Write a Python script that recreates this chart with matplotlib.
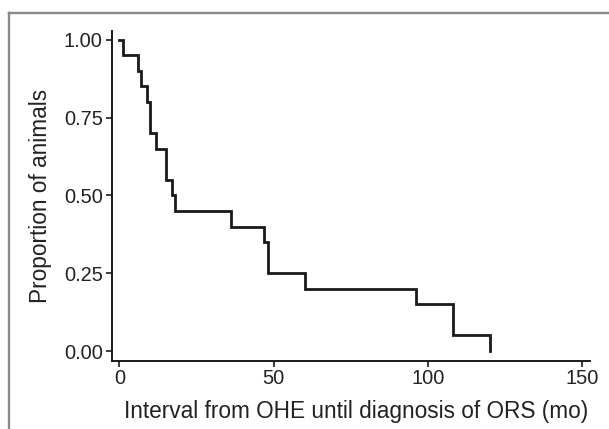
import matplotlib
matplotlib.use("Agg")
import matplotlib.pyplot as plt
from matplotlib.lines import Line2D

# Kaplan-Meier step data (months, proportion)
times = [0, 1, 6, 7, 9, 10, 12, 15, 17, 18, 36, 47, 48, 60, 96, 108, 120]
surv = [1.00, 0.95, 0.90, 0.85, 0.80, 0.70, 0.65, 0.55, 0.50, 0.45,
        0.40, 0.35, 0.25, 0.20, 0.15, 0.05, 0.00]
x_ticks = [0, 50, 100, 150]
y_ticks = [0.00, 0.25, 0.50, 0.75, 1.00]
y_tick_labels = ["0.00", "0.25", "0.50", "0.75", "1.00"]
x_label = "Interval from OHE until diagnosis of ORS (mo)"
y_label = "Proportion of animals"

plt.rcParams['font.family'] = ['Liberation Sans', 'DejaVu Sans']

W, H = 609, 429
fig = plt.figure(figsize=(W / 100, H / 100), dpi=100)
ax = fig.add_axes([111.7 / W, 1 - 361 / H, (590 - 111.7) / W, (361 - 31) / H])

ax.step(times, surv, where='post', color='#1a1a1a', lw=2.0, solid_joinstyle='miter')

ax.set_xlim(-2.5, 152.5)
ax.set_ylim(-0.032, 1.028)
ax.set_xticks(x_ticks)
ax.set_yticks(y_ticks)
ax.set_yticklabels(y_tick_labels)

for s in ['top', 'right']:
    ax.spines[s].set_visible(False)
for s in ['left', 'bottom']:
    ax.spines[s].set_linewidth(1.4)
    ax.spines[s].set_color('#1a1a1a')

ax.tick_params(axis='both', length=4.5, width=1.2, color='#1a1a1a',
               labelsize=14.4, labelcolor='#222222')
ax.tick_params(axis='x', pad=1.5)
ax.tick_params(axis='y', pad=2.0)

fig.text(356 / W, 1 - 418 / H, x_label, fontsize=16.3, color='#222222',
         ha='center', va='baseline')
fig.text(47.3 / W, 1 - 196 / H, y_label, fontsize=16.3, color='#222222',
         ha='center', va='baseline', rotation=90, rotation_mode='anchor')

# gray frame (top and left edges visible)
border = '#8a8a8a'
fig.add_artist(Line2D([9.2 / W, 9.2 / W], [0, 1 - 12.5 / H], transform=fig.transFigure,
                      color=border, lw=1.7, solid_capstyle='projecting'))
fig.add_artist(Line2D([9.2 / W, 1.0], [1 - 12.5 / H, 1 - 12.5 / H], transform=fig.transFigure,
                      color=border, lw=1.7, solid_capstyle='projecting'))

fig.savefig("out.png", dpi=100)
